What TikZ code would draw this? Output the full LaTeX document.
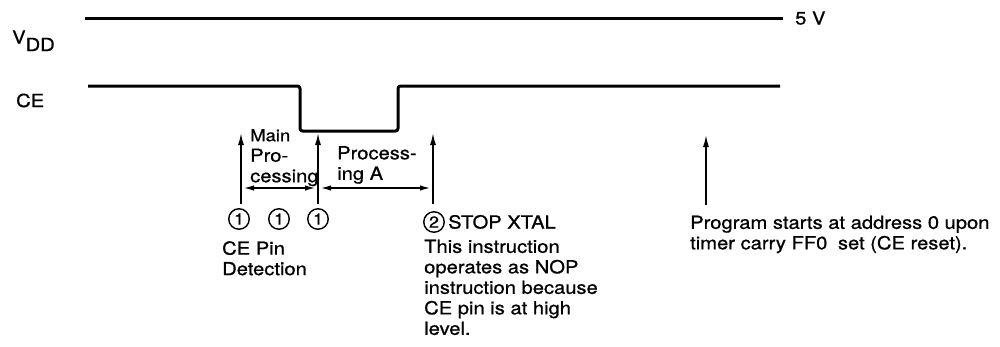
\documentclass[tikz,border=0pt]{standalone}
\usepackage{fontspec}
\setmainfont[FakeStretch=1.12,FakeBold=0.8]{TeX Gyre Heros}
\usetikzlibrary{arrows.meta}
\begin{document}
\begin{tikzpicture}[x=1pt,y=-1pt,
  sig/.style={line width=3pt,line join=round},
  marker/.style={line width=1.5pt,-{Latex[length=12pt,width=6pt]}},
  dim/.style={line width=1.3pt,{Latex[length=10pt,width=5.5pt]}-{Latex[length=10pt,width=5.5pt]},shorten <=3pt,shorten >=3pt},
  txt/.style={inner sep=0pt,align=left,anchor=north west,font=\fontsize{18}{20.5}\selectfont},
  lbl/.style={inner sep=0pt,font=\fontsize{18}{21}\selectfont},
  num/.style={circle,draw,line width=1.4pt,inner sep=0pt,minimum size=20.5pt,font=\fontsize{16}{16}\selectfont}]
\useasboundingbox (0,0) rectangle (1000,346);

% labels
\node[lbl,anchor=base west] (vdd) at (12,43.5) {V\raisebox{-7.5pt}{DD}};
\node[lbl,anchor=base west] (ce) at (16,107) {CE};

% VDD line
\coordinate (v0) at (85,18);
\coordinate (v1) at (783,18);
\draw[sig] (v0) -- (v1);
\node[lbl,anchor=base west] (five) at (795,24.5) {5 V};

% CE waveform
\coordinate (c0) at (88,86);
\coordinate (c1) at (300,86);
\coordinate (c2) at (300,131);
\coordinate (c3) at (398,131);
\coordinate (c4) at (398,86);
\coordinate (c5) at (780,86);
\draw[sig,rounded corners=2.5pt] (c0) -- (c1) -- (c2) -- (c3) -- (c4) -- (c5);

% marker arrows
\coordinate (a1b) at (241,204); \coordinate (a1t) at (241,133);
\coordinate (a2b) at (318,204); \coordinate (a2t) at (318,133);
\coordinate (a3b) at (433,204); \coordinate (a3t) at (433,133);
\coordinate (a4b) at (706,205); \coordinate (a4t) at (706,135);
\draw[marker] (a1b) -- (a1t);
\draw[marker] (a2b) -- (a2t);
\draw[marker] (a3b) -- (a3t);
\draw[marker] (a4b) -- (a4t);

% dimension lines
\coordinate (d1) at (241,188);
\coordinate (d2) at (318,188);
\coordinate (d3) at (433,188);
\draw[dim] (d1) -- (d2);
\draw[dim] (d2) -- (d3);

\node[txt] (main) at (250,129) {\fontsize{16.5}{17.5}\selectfont Main\\Pro-\\cessing};
\node[txt] (proca) at (337,146) {\fontsize{18}{19}\selectfont Process-\\ing A};

% circled numbers
\node[num] (n1) at (239,219) {1};
\node[num] (n2) at (279,219) {1};
\node[num] (n3) at (318,219) {1};
\node[num] (n4) at (434,222) {2};

\node[txt] (det) at (222,241) {CE Pin\\Detection};
\node[lbl,anchor=base west] (stop) at (448,228.5) {STOP XTAL};
\node[txt] (nop) at (424,239.5) {This instruction\\operates as NOP\\instruction because\\CE pin is at high\\level.};
\node[txt] (prog) at (690,215.5) {\fontsize{18}{21}\selectfont Program starts at address 0 upon\\timer carry FF0\hspace{5pt} set (CE reset).};
\end{tikzpicture}
\end{document}
